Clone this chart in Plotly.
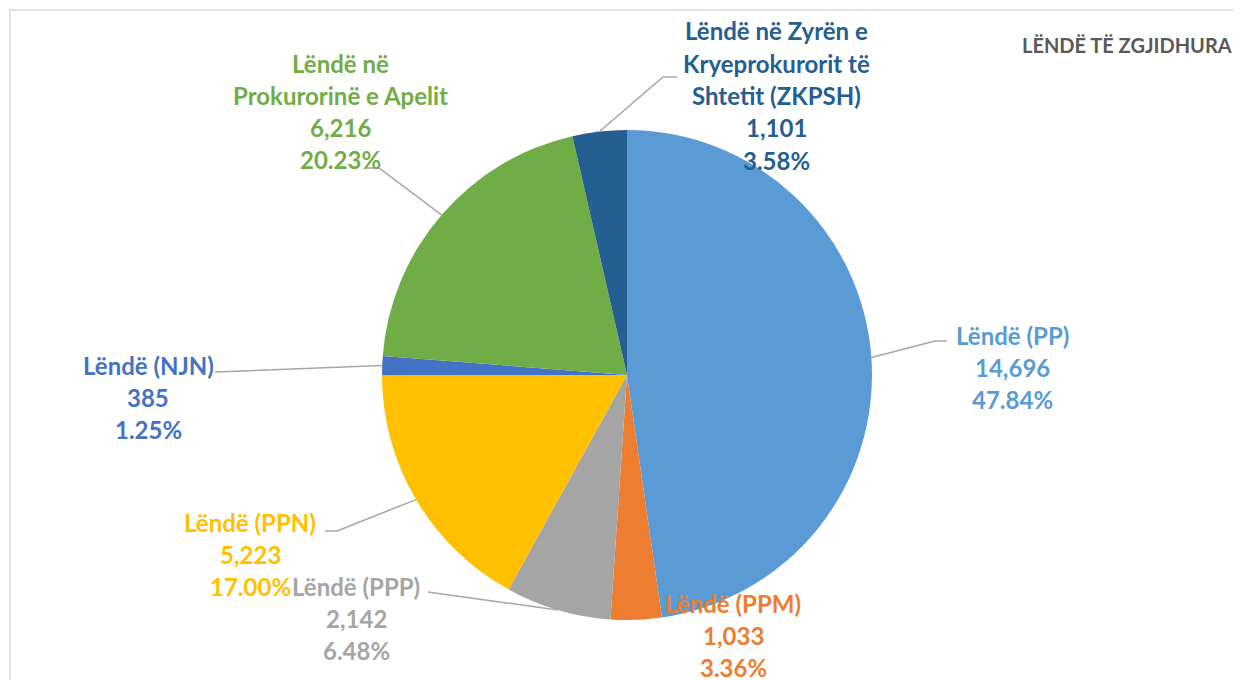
import math
import plotly.graph_objects as go

# ---- data ----
categories = ["Lëndë (PP)", "Lëndë (PPM)", "Lëndë (PPP)", "Lëndë (PPN)",
              "Lëndë (NJN)", "Lëndë në Prokurorinë e Apelit",
              "Lëndë në Zyrën e Kryeprokurorit të Shtetit (ZKPSH)"]
values = [14696, 1033, 2142, 5223, 385, 6216, 1101]
percent_labels = ["47.84%", "3.36%", "6.48%", "17.00%", "1.25%", "20.23%", "3.58%"]
name_lines = [
    ["Lëndë (PP)"],
    ["Lëndë (PPM)"],
    ["Lëndë (PPP)"],
    ["Lëndë (PPN)"],
    ["Lëndë (NJN)"],
    ["Lëndë në", "Prokurorinë e Apelit"],
    ["Lëndë në Zyrën e", "Kryeprokurorit të", "Shtetit (ZKPSH)"],
]
title_text = "LËNDË TË ZGJIDHURA"

# ---- styles / layout ----
colors = ["#5B9BD5", "#ED7D31", "#A5A5A5", "#FFC000", "#4472C4", "#70AD47", "#255E91"]
W, H = 1241, 680
OFF = 8  # page body margin
CX, CY, R = 627, 375, 245
# label block: (center x, first line center y) in screen px
label_pos = [(1012, 335), (733, 603), (356, 586), (250, 522), (148, 365), (340, 63), (776, 31)]
line_gap = 32.3
# leader: list of px points starting at label side (elbow path), None for no leader
leaders = [
    [(947, 341), (935, 341)],
    None,
    [(428, 592)],
    [(325, 531), (337, 531)],
    [(215, 372)],
    [(367, 168), (379, 168)],
    [(677, 77), (663, 77)],
]


def px(x):
    return (x - OFF) / W


def py(y):
    return 1 - (y - OFF) / H


fig = go.Figure(go.Pie(
    labels=categories,
    values=values,
    sort=False,
    direction="clockwise",
    rotation=0,
    marker=dict(colors=colors, line=dict(width=0)),
    textinfo="none",
    hoverinfo="label+value",
    showlegend=False,
    domain=dict(x=[px(CX - R), px(CX + R)], y=[py(CY + R), py(CY - R)]),
))

annotations = []
shapes = []
total = sum(values)
cum = 0
for i, v in enumerate(values):
    mid = (cum + v / 2) / total
    cum += v
    theta = mid * 2 * math.pi
    ex = CX + R * math.sin(theta)
    ey = CY - R * math.cos(theta)
    lx, ly = label_pos[i]
    lines = name_lines[i] + [f"{v:,}", percent_labels[i]]
    for k, t in enumerate(lines):
        annotations.append(dict(
            x=px(lx), y=py(ly + k * line_gap), xref="paper", yref="paper",
            text=f"<b>{t}</b>", showarrow=False, xanchor="center", yanchor="middle",
            font=dict(family="Lato", size=24, color=colors[i]),
        ))
    if leaders[i]:
        pts = leaders[i] + [(ex, ey)]
        path = "M " + " L ".join(f"{px(a)},{py(b)}" for a, b in pts)
        shapes.append(dict(type="path", xref="paper", yref="paper", path=path,
                           line=dict(color="#A6A6A6", width=1.5)))

annotations.append(dict(
    x=px(1127), y=py(45), xref="paper", yref="paper", text=f"<b>{title_text}</b>",
    showarrow=False, xanchor="center", yanchor="middle",
    font=dict(family="Lato", size=20, color="#595959"),
))

# chart frame (left and top edges visible)
shapes.append(dict(type="path", xref="paper", yref="paper",
                   path=f"M {px(10)},{py(700)} L {px(10)},{py(10)} L {px(1260)},{py(10)}",
                   line=dict(color="#D9D9D9", width=1.5)))

fig.update_layout(
    width=W, height=H,
    margin=dict(l=0, r=0, t=0, b=0),
    paper_bgcolor="white",
    plot_bgcolor="white",
    annotations=annotations,
    shapes=shapes,
)

fig.write_html("out.html")
